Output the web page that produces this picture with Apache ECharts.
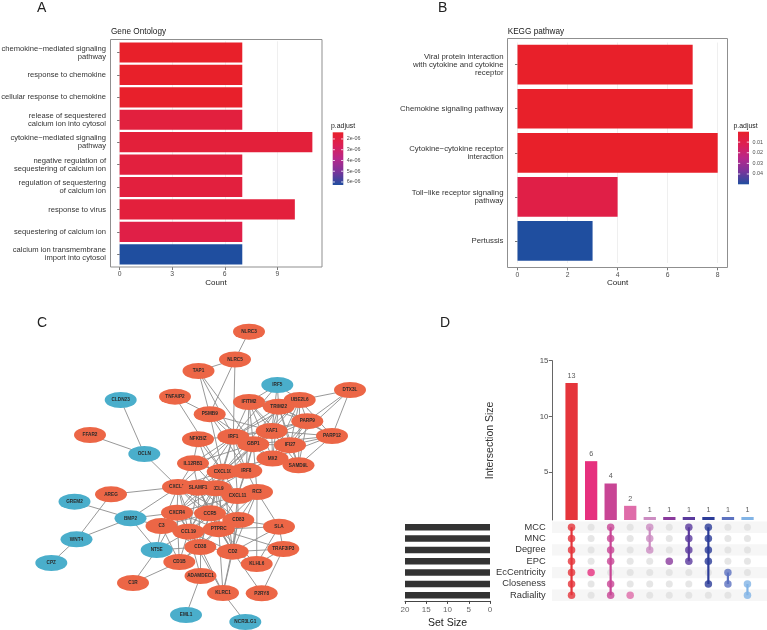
<!DOCTYPE html>
<html><head><meta charset="utf-8">
<script src="https://cdn.jsdelivr.net/npm/echarts@6/dist/echarts.min.js"></script>
<style>html,body{margin:0;padding:0;background:#fff}#c{width:767px;height:630px}</style>
</head><body><div id="c"></div>
<script>
// ================= DATA =================
// Panel A: GO enrichment
const goTerms = ['chemokine\u2212mediated signaling\npathway','response to chemokine','cellular response to chemokine','release of sequestered\ncalcium ion into cytosol','cytokine\u2212mediated signaling\npathway','negative regulation of\nsequestering of calcium ion','regulation of sequestering\nof calcium ion','response to virus','sequestering of calcium ion','calcium ion transmembrane\nimport into cytosol'];
const goCount = [7,7,7,7,11,7,7,10,7,7];
const goPadj = [1.38e-6,1.38e-6,1.4e-6,1.95e-6,1.85e-6,1.95e-6,1.95e-6,1.9e-6,2.2e-6,6.28e-6];
const goLegendTicks = [2e-6,3e-6,4e-6,5e-6,6e-6];
const goLegendLabels = ['2e-06','3e-06','4e-06','5e-06','6e-06'];
const goXTicks = [0,3,6,9];

// Panel B: KEGG enrichment
const keggTerms = ['Viral protein interaction\nwith cytokine and cytokine\nreceptor','Chemokine signaling pathway','Cytokine\u2212cytokine receptor\ninteraction','Toll\u2212like receptor signaling\npathway','Pertussis'];
const keggCount = [7,7,8,4,3];
const keggPadj = [0.0002,0.0002,0.0003,0.0085,0.0497];
const keggLegendTicks = [0.01,0.02,0.03,0.04];
const keggLegendLabels = ['0.01','0.02','0.03','0.04'];
const keggXTicks = [0,2,4,6,8];

// Panel C: PPI network (layout coordinates + type: 1 = orange, 0 = blue)
const nodeNames = ['NLRC3','NLRC5','TAP1','IRF5','DTX3L','CLDN23','TNFAIP2','IFITM2','UBE2L6','TRIM22','PSMB9','PARP9','FFAR2','NFKBIZ','IRF1','XAF1','GBP1','PARP12','IFI27','OCLN','SAMD9L','MX2','IL12RB1','CXCL10','IRF8','CXCL13','CXCL9','SLAMF1','RC3','CXCL11','AREG','GREM2','BMP2','CXCR4','CCR5','C3','CCL19','CD83','PTPRC','SLA','WNT4','NT5E','CD38','CD2','TRAF3IP3','CPZ','CD1B','KLHL6','ADAMDEC1','C1R','KLRC1','P2RY8','EML1','NCR3LG1'];
const nodeX = [249,235,198.5,277.3,350,120.7,175,249,299.7,278.7,209.7,307.3,90,198,233.3,271.7,253.3,332,290,144.3,298.5,272.5,193,222.7,246.3,178,216,198,257,237.5,111,74.5,130.5,177,210,161.5,188.5,238.3,218.7,279,76.5,156.7,200.3,232.7,283.3,51.3,179.3,256.7,200.5,133,223,261.7,186,245.3];
const nodeY = [331.7,359.5,371,385,390,400,396.7,402,400,406.7,414.2,421.2,435,439.2,436.7,431,444.2,436,445.2,454,465.3,458.5,463.3,471.7,470.8,487,488.3,487.7,492,496,494.3,501.7,518.3,512.7,513.3,526,531.7,520,529.2,526.7,539.3,550,547,551.7,549,563,562,564,576,583,593,593.3,615,622];
const nodeType = [1,1,1,0,1,0,1,1,1,1,1,1,1,1,1,1,1,1,1,0,1,1,1,1,1,1,1,1,1,1,1,0,0,1,1,1,1,1,1,1,0,0,1,1,1,0,1,1,1,1,1,1,0,0];
const edges = [
['NLRC3','NLRC5'],['NLRC5','TAP1'],['NLRC5','IRF1'],['NLRC5','PSMB9'],['TAP1','PSMB9'],['TAP1','IRF1'],['TAP1','GBP1'],
['TNFAIP2','PSMB9'],['TNFAIP2','CXCL10'],
['IRF5','IFITM2'],['IRF5','TRIM22'],['IRF5','UBE2L6'],['IRF5','IRF1'],['IRF5','XAF1'],
['DTX3L','UBE2L6'],['DTX3L','PARP9'],['DTX3L','PARP12'],['DTX3L','IFI27'],
['CLDN23','OCLN'],['FFAR2','OCLN'],['OCLN','CXCL13'],
['IFITM2','TRIM22'],['IFITM2','XAF1'],['IFITM2','GBP1'],['IFITM2','IRF1'],['IFITM2','MX2'],['IFITM2','IFI27'],['IFITM2','UBE2L6'],['IFITM2','PARP9'],['IFITM2','IRF8'],
['TRIM22','UBE2L6'],['TRIM22','XAF1'],['TRIM22','PARP9'],['TRIM22','GBP1'],['TRIM22','IRF1'],['TRIM22','MX2'],['TRIM22','IFI27'],['TRIM22','PARP12'],['TRIM22','SAMD9L'],['TRIM22','CXCL10'],
['UBE2L6','PARP9'],['UBE2L6','XAF1'],['UBE2L6','PARP12'],['UBE2L6','GBP1'],['UBE2L6','IFI27'],['UBE2L6','IRF1'],['UBE2L6','SAMD9L'],['UBE2L6','MX2'],
['PARP9','PARP12'],['PARP9','XAF1'],['PARP9','IFI27'],['PARP9','GBP1'],['PARP9','MX2'],['PARP9','SAMD9L'],['PARP9','IRF1'],
['XAF1','GBP1'],['XAF1','IFI27'],['XAF1','MX2'],['XAF1','IRF1'],['XAF1','PARP12'],['XAF1','SAMD9L'],['XAF1','CXCL10'],
['PARP12','IFI27'],['PARP12','SAMD9L'],['PARP12','MX2'],['PARP12','GBP1'],
['GBP1','IRF1'],['GBP1','MX2'],['GBP1','IFI27'],['GBP1','IRF8'],['GBP1','CXCL10'],['GBP1','CXCL9'],['GBP1','CXCL11'],['GBP1','PSMB9'],
['IFI27','MX2'],['IFI27','SAMD9L'],['MX2','SAMD9L'],['MX2','IRF1'],['MX2','CXCL10'],
['PSMB9','IRF1'],['PSMB9','XAF1'],['PSMB9','IRF8'],['PSMB9','CXCL10'],
['IRF1','IRF8'],['IRF1','CXCL10'],['IRF1','CXCL9'],['IRF1','CXCL11'],['IRF1','NFKBIZ'],['IRF1','IL12RB1'],['IRF1','CXCL13'],['IRF1','SLAMF1'],
['IRF8','CXCL10'],['IRF8','CXCL9'],['IRF8','CXCL11'],['IRF8','MX2'],['IRF8','RC3'],
['NFKBIZ','CXCL10'],['NFKBIZ','IL12RB1'],['NFKBIZ','CXCL9'],
['IL12RB1','CXCL13'],['IL12RB1','CXCL10'],['IL12RB1','CXCL9'],['IL12RB1','SLAMF1'],['IL12RB1','GBP1'],
['CXCL13','SLAMF1'],['CXCL13','CXCL9'],['CXCL13','CXCL10'],['CXCL13','CXCL11'],['CXCL13','CXCR4'],['CXCL13','CCR5'],['CXCL13','CCL19'],['CXCL13','C3'],['CXCL13','PTPRC'],['CXCL13','CD38'],['CXCL13','CD83'],
['SLAMF1','CXCL9'],['SLAMF1','CXCL10'],['SLAMF1','CXCR4'],['SLAMF1','CCR5'],['SLAMF1','PTPRC'],['SLAMF1','CD38'],['SLAMF1','CD2'],['SLAMF1','CCL19'],['SLAMF1','CD83'],
['CXCL9','CXCL10'],['CXCL9','CXCL11'],['CXCL9','CXCR4'],['CXCL9','CCR5'],['CXCL9','PTPRC'],['CXCL9','CCL19'],['CXCL9','CD38'],['CXCL9','CD2'],['CXCL9','CD83'],
['CXCL10','CXCL11'],['CXCL10','CXCR4'],['CXCL10','CCR5'],['CXCL10','PTPRC'],['CXCL10','CCL19'],['CXCL10','CD2'],
['CXCL11','CCR5'],['CXCL11','CXCR4'],['CXCL11','RC3'],['CXCL11','PTPRC'],['CXCL11','CD83'],['CXCL11','CCL19'],['CXCL11','CD2'],
['RC3','CD83'],['RC3','PTPRC'],['RC3','KLHL6'],['RC3','CD2'],['RC3','SLA'],['RC3','GBP1'],
['CXCR4','CCR5'],['CXCR4','C3'],['CXCR4','CCL19'],['CXCR4','PTPRC'],['CXCR4','BMP2'],['CXCR4','NT5E'],['CXCR4','CD38'],['CXCR4','CD1B'],
['CCR5','CCL19'],['CCR5','PTPRC'],['CCR5','CD83'],['CCR5','CD38'],['CCR5','CD2'],['CCR5','C3'],
['CD83','PTPRC'],['CD83','CCL19'],['CD83','SLA'],['CD83','CD2'],['CD83','KLRC1'],
['PTPRC','CCL19'],['PTPRC','CD38'],['PTPRC','CD2'],['PTPRC','SLA'],['PTPRC','TRAF3IP3'],['PTPRC','KLRC1'],['PTPRC','C3'],['PTPRC','KLHL6'],['PTPRC','CD1B'],
['CCL19','C3'],['CCL19','CD38'],['CCL19','NT5E'],['CCL19','CD2'],['CCL19','CD1B'],['CCL19','KLRC1'],
['C3','NT5E'],['C3','BMP2'],['C3','CD38'],['C3','CD1B'],
['CD38','CD1B'],['CD38','CD2'],['CD38','NT5E'],['CD38','KLRC1'],['CD38','ADAMDEC1'],
['CD2','KLRC1'],['CD2','SLA'],['CD2','TRAF3IP3'],['CD2','KLHL6'],['CD2','P2RY8'],
['SLA','KLHL6'],['SLA','TRAF3IP3'],['TRAF3IP3','KLHL6'],['TRAF3IP3','P2RY8'],
['KLRC1','NCR3LG1'],['ADAMDEC1','EML1'],['ADAMDEC1','CCL19'],
['CD1B','C1R'],['NT5E','C1R'],['NT5E','BMP2'],
['BMP2','GREM2'],['BMP2','WNT4'],['BMP2','CXCL13'],
['AREG','CXCL13'],['AREG','WNT4'],['WNT4','CPZ']
];

// Panel D: UpSet plot
const setNames = ['MCC','MNC','Degree','EPC','EcCentricity','Closeness','Radiality'];
const setSizes = [20,20,20,20,20,20,20];
const interSizes = [13,6,4,2,1,1,1,1,1,1];
const interSets = [
  ['MCC','MNC','Degree','EPC','EcCentricity','Closeness','Radiality'],
  ['EcCentricity'],
  ['MCC','MNC','Degree','EPC','Closeness','Radiality'],
  ['Radiality'],
  ['MCC','MNC','Degree'],
  ['EPC'],
  ['MCC','MNC','Degree','EPC'],
  ['MCC','MNC','Degree','EPC','Closeness'],
  ['EcCentricity','Closeness'],
  ['Closeness','Radiality']
];
const interTicks = [5,10,15];

// ================= STYLE =================
const FONT = '"Liberation Sans", Arial, Helvetica, sans-serif';
const padjColors = ['#E8202A','#DC1F55','#B8278A','#7A349B','#1F4E9F'];
const interColors = ['#E5353B','#E6307E','#C84595','#DF6CA9','#CC8CC2','#8A3A9C','#5A3A9D','#2C3C98','#5D72C0','#82B4E6'];
const ORANGE = '#EC6646', BLUE = '#4AAECB';

const chart = echarts.init(document.getElementById('c'), null, {renderer:'canvas', width:767, height:630});

function legend(x, y, w, h, vmin, vmax, ticks, labels, labelX) {
  const els = [];
  els.push({type:'rect', silent:true, shape:{x:x, y:y, width:w, height:h},
    style:{fill:{type:'linear', x:0, y:0, x2:0, y2:1,
      colorStops: padjColors.map((c,i)=>({offset:i/(padjColors.length-1), color:c}))}}});
  ticks.forEach((v,i)=>{
    const ty = y + (v - vmin) / (vmax - vmin) * h;
    els.push({type:'line', silent:true, shape:{x1:x, y1:ty, x2:x+2.2, y2:ty}, style:{stroke:'#fff', lineWidth:0.8}});
    els.push({type:'line', silent:true, shape:{x1:x+w-2.2, y1:ty, x2:x+w, y2:ty}, style:{stroke:'#fff', lineWidth:0.8}});
    els.push({type:'text', silent:true, x:labelX, y:ty, style:{text:labels[i], fontSize:5.4, fontFamily:FONT, fill:'#4D4D4D', align:'left', verticalAlign:'middle'}});
  });
  return els;
}
function txt(t, x, y, size, opts) {
  return {type:'text', silent:true, x:x, y:y, style:Object.assign({text:t, fontSize:size, fontFamily:FONT, fill:'#1a1a1a', align:'left', verticalAlign:'middle'}, opts||{})};
}

const goMin = Math.min.apply(null, goPadj), goMax = Math.max.apply(null, goPadj);
const kgMin = Math.min.apply(null, keggPadj), kgMax = Math.max.apply(null, keggPadj);

const graphic = [
  txt('A', 37, 8.5, 14, {fill:'#222'}),
  txt('B', 438, 8.5, 14, {fill:'#222'}),
  txt('C', 37, 323.5, 14, {fill:'#222'}),
  txt('D', 440, 323.5, 14, {fill:'#222'}),
  txt('Gene Ontology', 111, 31.7, 8.2),
  txt('KEGG pathway', 507.7, 31.3, 8.2),
  {type:'rect', silent:true, z:10, shape:{x:110.5, y:39.5, width:211.5, height:227.5}, style:{fill:'none', stroke:'#8F8F8F', lineWidth:1}},
  {type:'rect', silent:true, z:10, shape:{x:507.5, y:38.5, width:220, height:229}, style:{fill:'none', stroke:'#8F8F8F', lineWidth:1}},
  txt('p.adjust', 331, 125.7, 6.9),
  txt('p.adjust', 733.5, 125.7, 6.9)
].concat(legend(332.7, 132.3, 10.6, 52.7, goMin, goMax, goLegendTicks, goLegendLabels, 346.7))
 .concat(legend(738, 131.7, 11, 52.6, kgMin, kgMax, keggLegendTicks, keggLegendLabels, 752.5));

const catAxisLabel = {fontSize:7.6, fontFamily:FONT, color:'#333', lineHeight:8.1, margin:4, interval:0};

// UpSet matrix data derived from the sets
const grayDots = [], activeDots = [], matrixLines = [];
interSets.forEach((s, i) => {
  setNames.forEach((n) => {
    if (s.indexOf(n) >= 0) activeDots.push({value:[i, n], itemStyle:{color:interColors[i]}});
    else grayDots.push([i, n]);
  });
  const idx = s.map(n => setNames.indexOf(n));
  const lo = Math.min.apply(null, idx), hi = Math.max.apply(null, idx);
  if (hi > lo) {
    matrixLines.push({type:'line', xAxisIndex:4, yAxisIndex:4, silent:true, symbol:'none',
      data:[[i, setNames[lo]], [i, setNames[hi]]], lineStyle:{color:interColors[i], width:2.2}, z:3});
  }
});
const interNames = interSets.map(s => s.join('&'));

// network nodes: one series per node so later nodes cover earlier labels
const nodeSeries = nodeNames.map((n, i) => ({
  type:'scatter', xAxisIndex:2, yAxisIndex:2, silent:true, z:5 + i,
  symbol:'circle', symbolSize:[32,16],
  data:[{name:n, value:[nodeX[i], nodeY[i]]}],
  itemStyle:{color: nodeType[i] ? ORANGE : BLUE, opacity:1},
  label:{show:true, formatter:'{b}', position:'inside', fontSize:4.7, fontWeight:'bold', color:'#2a2a2a', fontFamily:FONT}
}));

const G = {outerBoundsMode:'none', containLabel:false};
const option = {
  animation:false,
  backgroundColor:'#fff',
  textStyle:{fontFamily:FONT},
  graphic: graphic,
  grid: [
    Object.assign({left:110, top:41.3, width:212, height:224.2}, G),
    Object.assign({left:507.5, top:42.6, width:220.2, height:220.4}, G),
    Object.assign({left:0, top:290, width:390, height:340}, G),
    Object.assign({left:561.8, top:360.7, width:195.5, height:159.3}, G),
    Object.assign({left:552, top:521.6, width:215, height:79.3}, G),
    Object.assign({left:405, top:521.6, width:85, height:79.3}, G)
  ],
  visualMap: [
    {type:'continuous', show:false, seriesIndex:0, dimension:2, min:goMin, max:goMax, inRange:{color:padjColors}},
    {type:'continuous', show:false, seriesIndex:1, dimension:2, min:kgMin, max:kgMax, inRange:{color:padjColors}}
  ],
  xAxis: [
    {type:'value', gridIndex:0, min:-0.55, max:11.55, offset:1.5,
      axisLine:{show:false}, axisTick:{show:true, length:3, customValues:goXTicks, lineStyle:{color:'#555', width:0.8}},
      axisLabel:{customValues:goXTicks, fontSize:6.8, color:'#4D4D4D', margin:4, fontFamily:FONT},
      splitLine:{show:true, lineStyle:{color:'#EBEBEB', width:0.8}},
      name:'Count', nameLocation:'middle', nameGap:11.5, nameTextStyle:{fontSize:8, color:'#1a1a1a', fontFamily:FONT}},
    {type:'value', gridIndex:1, min:-0.4, max:8.4, offset:4.3,
      axisLine:{show:false}, axisTick:{show:true, length:3, customValues:keggXTicks, lineStyle:{color:'#555', width:0.8}},
      axisLabel:{customValues:keggXTicks, fontSize:6.8, color:'#4D4D4D', margin:4, fontFamily:FONT},
      splitLine:{show:true, lineStyle:{color:'#EBEBEB', width:0.8}},
      name:'Count', nameLocation:'middle', nameGap:11.5, nameTextStyle:{fontSize:8, color:'#1a1a1a', fontFamily:FONT}},
    {type:'value', gridIndex:2, min:0, max:390, show:false},
    {type:'category', gridIndex:3, data:interNames, show:false},
    {type:'value', gridIndex:4, min:-1, max:10, show:false},
    {type:'value', gridIndex:5, min:0, max:20, interval:5, inverse:true,
      axisLine:{show:true, lineStyle:{color:'#444', width:1}}, axisTick:{show:true, length:3, lineStyle:{color:'#444'}},
      axisLabel:{fontSize:8, color:'#666', margin:5, fontFamily:FONT}, splitLine:{show:false},
      name:'Set Size', nameLocation:'middle', nameGap:17, nameTextStyle:{fontSize:10.5, color:'#222', fontFamily:FONT}}
  ],
  yAxis: [
    {type:'category', gridIndex:0, data:goTerms, inverse:true,
      axisLine:{show:false}, axisTick:{show:true, length:2.5, alignWithLabel:true, lineStyle:{color:'#555', width:0.8}},
      axisLabel:catAxisLabel, splitLine:{show:false}},
    {type:'category', gridIndex:1, data:keggTerms, inverse:true,
      axisLine:{show:false}, axisTick:{show:true, length:2.5, alignWithLabel:true, lineStyle:{color:'#555', width:0.8}},
      axisLabel:Object.assign({}, catAxisLabel, {fontSize:7.8, lineHeight:7.9}), splitLine:{show:false}},
    {type:'value', gridIndex:2, min:290, max:630, inverse:true, show:false},
    {type:'value', gridIndex:3, min:0.73, max:15, offset:9.5,
      axisLine:{show:true, lineStyle:{color:'#666', width:1}},
      axisTick:{show:true, length:3.5, customValues:interTicks, lineStyle:{color:'#666'}},
      axisLabel:{customValues:interTicks, fontSize:7.8, color:'#4D4D4D', margin:4, fontFamily:FONT},
      splitLine:{show:false},
      name:'Intersection Size', nameLocation:'middle', nameRotate:90, nameGap:57, nameTextStyle:{fontSize:10.5, color:'#333', fontFamily:FONT}},
    {type:'category', gridIndex:4, data:setNames, inverse:true,
      axisLine:{show:false}, axisTick:{show:false},
      axisLabel:{fontSize:9.3, color:'#333', margin:6.3, fontFamily:FONT, interval:0},
      splitArea:{show:true, interval:0, areaStyle:{color:['#F6F6F6','rgba(255,255,255,0)']}}},
    {type:'category', gridIndex:5, data:setNames, inverse:true, show:false}
  ],
  series: [
    {type:'bar', xAxisIndex:0, yAxisIndex:0, barCategoryGap:'10%', encode:{x:0, y:1},
      data: goTerms.map((t,i)=>[goCount[i], t, goPadj[i]]), silent:true},
    {type:'bar', xAxisIndex:1, yAxisIndex:1, barCategoryGap:'10%', encode:{x:0, y:1},
      data: keggTerms.map((t,i)=>[keggCount[i], t, keggPadj[i]]), silent:true},
    {type:'graph', coordinateSystem:'cartesian2d', xAxisIndex:2, yAxisIndex:2, silent:true, z:2,
      symbol:'circle', symbolSize:1,
      data: nodeNames.map((n,i)=>({name:n, value:[nodeX[i], nodeY[i]]})),
      itemStyle:{opacity:0},
      links: edges.map(e=>({source:e[0], target:e[1]})),
      lineStyle:{color:'#8C8C8C', width:0.9, opacity:1, curveness:0},
      label:{show:false},
      emphasis:{disabled:true}},
    {type:'bar', xAxisIndex:3, yAxisIndex:3, barWidth:12.3, silent:true,
      data: interSizes.map((v,i)=>({value:v, itemStyle:{color:interColors[i]}})),
      label:{show:true, position:'top', distance:3.5, fontSize:7.2, color:'#5A5A5A', fontFamily:FONT}},
    {type:'scatter', xAxisIndex:4, yAxisIndex:4, silent:true, symbolSize:7, data:grayDots, itemStyle:{color:'#E0E0E0'}, z:2},
    {type:'scatter', xAxisIndex:4, yAxisIndex:4, silent:true, symbolSize:7.5, data:activeDots, z:4},
    {type:'bar', xAxisIndex:5, yAxisIndex:5, barWidth:6.5, silent:true, data:setSizes, itemStyle:{color:'#333333'}}
  ].concat(matrixLines).concat(nodeSeries)
};
chart.setOption(option);
</script></body></html>
